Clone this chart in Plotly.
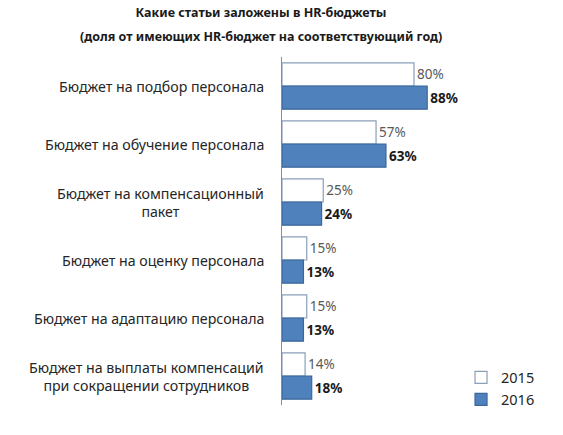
import plotly.graph_objects as go

categories = [
    "Бюджет на подбор персонала",
    "Бюджет на обучение персонала",
    "Бюджет на компенсационный<br>пакет",
    "Бюджет на оценку персонала",
    "Бюджет на адаптацию персонала",
    "Бюджет на выплаты компенсаций<br>при сокращении сотрудников",
]
values_2015 = [80, 57, 25, 15, 15, 14]
values_2016 = [88, 63, 24, 13, 13, 18]

title_line1 = "Какие статьи заложены в HR-бюджеты"
title_line2 = "(доля от имеющих HR-бюджет на соответствующий год)"

font = "Noto Sans"
W, H = 563, 435
L, R, T, B = 282, 116, 57, 30
plot_w, plot_h = W - L - R, H - T - B

fig = go.Figure()
fig.add_trace(go.Bar(
    y=categories, x=values_2015, name="2015", orientation="h",
    marker=dict(color="white", line=dict(color="#8A9FBA", width=1.2)),
    text=[f"{v}%" for v in values_2015], textposition="outside",
    textfont=dict(family=font, size=13.5, color="#595959"),
    cliponaxis=False,
))
fig.add_trace(go.Bar(
    y=categories, x=values_2016, name="2016", orientation="h",
    marker=dict(color="#4F81BD", line=dict(color="#3B679A", width=1.2)),
    text=[f"<b>{v}%</b>" for v in values_2016], textposition="outside",
    textfont=dict(family=font, size=13.5, color="#1a1a1a"),
    cliponaxis=False,
))

# category labels as annotations so two-line labels stay centred
for c in categories:
    fig.add_annotation(
        x=0, xref="paper", y=c, yref="y", text=c, showarrow=False,
        xanchor="right", xshift=-16, align="center",
        font=dict(family=font, size=14.2, color="#262626"),
    )

# second title line, spaced wider than plotly's own line height
fig.add_annotation(
    x=(261 - L) / plot_w, xref="paper", y=(H - B - 36) / plot_h, yref="paper",
    text=f"<b>{title_line2}</b>", showarrow=False,
    xanchor="center", yanchor="middle",
    font=dict(family=font, size=12.5, color="#1a1a1a"),
)

fig.update_layout(
    width=W, height=H,
    margin=dict(l=L, r=R, t=T, b=B),
    paper_bgcolor="white", plot_bgcolor="white",
    barmode="group", bargap=0.2, bargroupgap=0,
    title=dict(
        text=f"<b>{title_line1}</b>",
        x=261 / W, xanchor="center", y=1 - 13 / H, yanchor="middle",
        font=dict(family=font, size=12.5, color="#1a1a1a"),
    ),
    xaxis=dict(range=[0, 100], visible=False),
    yaxis=dict(
        autorange="reversed", showticklabels=False, ticks="",
        showline=True, linecolor="#8c8c8c", linewidth=1, showgrid=False,
    ),
    legend=dict(
        x=1.085, xanchor="left", y=0.125, yanchor="top",
        font=dict(family=font, size=14.5, color="#262626"),
        itemwidth=30, tracegroupgap=0,
    ),
    showlegend=True,
)

# drop the browser's default body margin so the chart sits at the page corner
fig.write_html(
    "out.html",
    config={"displayModeBar": False},
    post_script="document.body.style.margin='0';",
)
